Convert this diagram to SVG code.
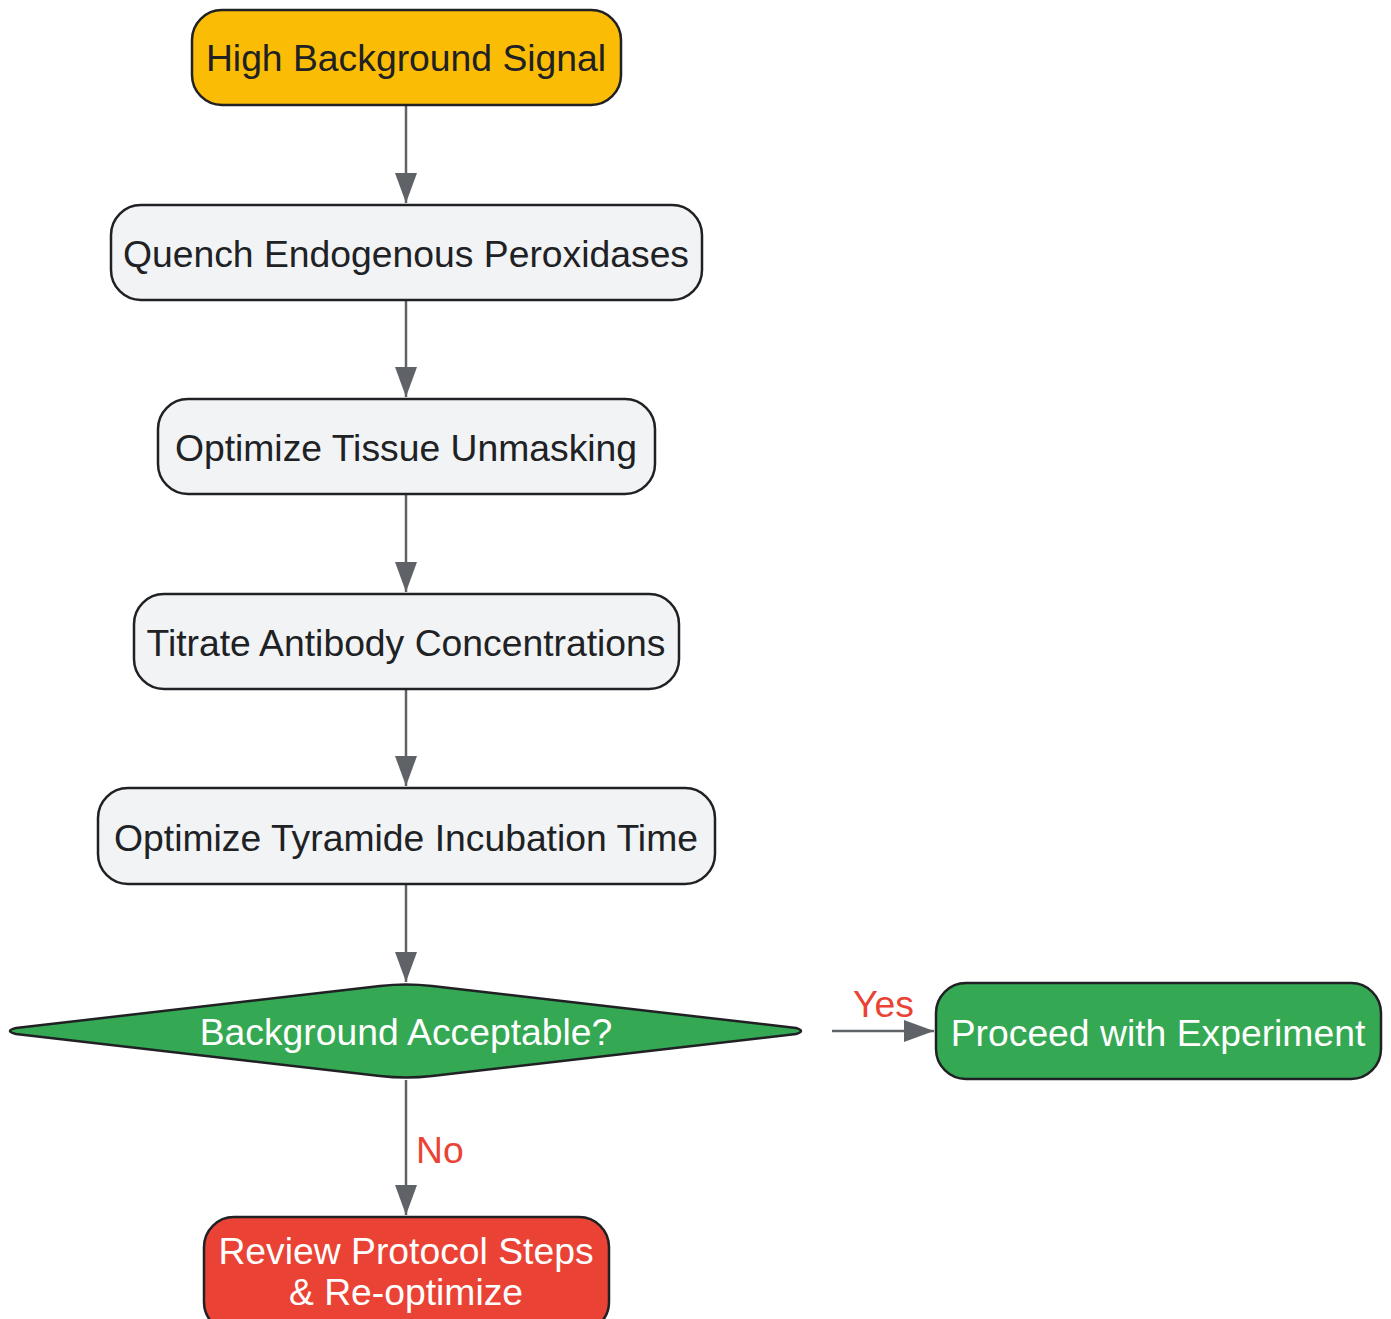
<svg xmlns="http://www.w3.org/2000/svg" width="1391" height="1319" viewBox="0 0 1391 1319">
<style>
.n{stroke:#202124;stroke-width:2.5}
.lt{fill:#F1F3F4}
.t{font-family:"Liberation Sans",Arial,sans-serif;font-size:37.3px;text-anchor:middle;fill:#202124}
.w{fill:#FFFFFF}
.e{stroke:#5F6368;stroke-width:2.5;fill:none}
.lb{font-family:"Liberation Sans",Arial,sans-serif;font-size:37.3px;fill:#EA4335}
</style>
<defs>
<marker id="ah" viewBox="0 0 30 22" refX="30" refY="11" markerWidth="30" markerHeight="22" markerUnits="userSpaceOnUse" orient="auto">
<path d="M0,0 L30,11 L0,22 z" fill="#5F6368"/>
</marker>
</defs>
<g id="connectors">
<path class="e" d="M406,106 V203" marker-end="url(#ah)"/>
<path class="e" d="M406,301 V397" marker-end="url(#ah)"/>
<path class="e" d="M406,495 V592" marker-end="url(#ah)"/>
<path class="e" d="M406,690 V786" marker-end="url(#ah)"/>
<path class="e" d="M406,885 V982" marker-end="url(#ah)"/>
<path class="e" d="M832,1031 H934" marker-end="url(#ah)"/>
<path class="e" d="M406,1080 V1215" marker-end="url(#ah)"/>
<text class="lb" x="853" y="1017">Yes</text>
<text class="lb" x="416" y="1163">No</text>
</g>
<g id="n1">
<rect class="n" x="192" y="10" width="429" height="95" rx="30" fill="#FBBC05"/>
<text class="t" x="406" y="71">High Background Signal</text>
</g>
<g id="n2">
<rect class="n lt" x="111" y="205" width="591" height="95" rx="30"/>
<text class="t" x="406" y="267">Quench Endogenous Peroxidases</text>
</g>
<g id="n3">
<rect class="n lt" x="158" y="399" width="497" height="95" rx="30"/>
<text class="t" x="406" y="461">Optimize Tissue Unmasking</text>
</g>
<g id="n4">
<rect class="n lt" x="134" y="594" width="545" height="95" rx="30"/>
<text class="t" x="406" y="656">Titrate Antibody Concentrations</text>
</g>
<g id="n5">
<rect class="n lt" x="98" y="788" width="617" height="96" rx="30"/>
<text class="t" x="406" y="851">Optimize Tyramide Incubation Time</text>
</g>
<g id="n6">
<path class="n" fill="#34A853" d="M16,1028 L380,986 Q406,983 432,986 L796,1028 Q806,1031 796,1034 L432,1076 Q406,1079 380,1076 L16,1034 Q4,1031 16,1028 Z"/>
<text class="t w" x="406" y="1045">Background Acceptable?</text>
</g>
<g id="n7">
<rect class="n" x="936" y="983" width="445" height="96" rx="30" fill="#34A853"/>
<text class="t w" x="1158" y="1046">Proceed with Experiment</text>
</g>
<g id="n8">
<rect class="n" x="204" y="1217" width="405" height="115" rx="30" fill="#EA4335"/>
<text class="t w" x="406" y="1264">Review Protocol Steps</text>
<text class="t w" x="406" y="1305">&amp; Re-optimize</text>
</g>
</svg>
